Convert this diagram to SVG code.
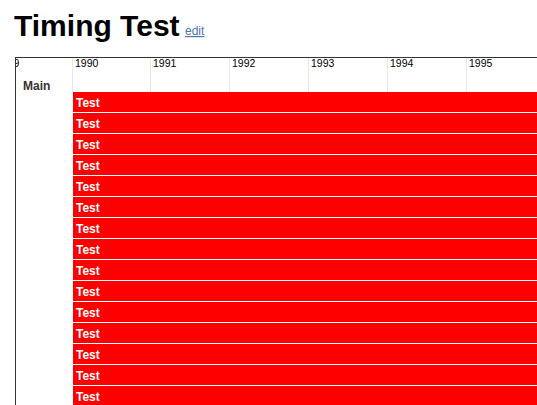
<svg xmlns="http://www.w3.org/2000/svg" width="537" height="405" viewBox="0 0 537 405">
<defs>
<style>
text{font-family:"Liberation Sans",Arial,sans-serif}
.title{font-size:30px;font-weight:bold;fill:#000}
.edit{font-size:12px;fill:#4a76b8;text-decoration:underline}
.yr{font-size:10.5px;fill:#000}
.grid{stroke:#e8e8e8;stroke-width:1}
.bar{fill:#ff0000}
.lbl{font-size:12px;font-weight:bold;fill:#fff}
.main{font-size:12px;font-weight:bold;fill:#333}
</style>
<clipPath id="tl"><rect x="15.5" y="57" width="522" height="348"/></clipPath>
</defs>
<rect width="537" height="405" fill="#fff"/>
<text class="title" x="14" y="36">Timing Test</text>
<text class="edit" x="185" y="35">edit</text>
<g id="axis">
<line class="grid" x1="72.5" y1="57" x2="72.5" y2="92"/>
<line class="grid" x1="150.5" y1="57" x2="150.5" y2="92"/>
<line class="grid" x1="229.5" y1="57" x2="229.5" y2="92"/>
<line class="grid" x1="308.5" y1="57" x2="308.5" y2="92"/>
<line class="grid" x1="387.5" y1="57" x2="387.5" y2="92"/>
<line class="grid" x1="466.5" y1="57" x2="466.5" y2="92"/>
<g clip-path="url(#tl)">
<text class="yr" x="-4" y="67">1989</text>
</g>
<text class="yr" x="75" y="67">1990</text>
<text class="yr" x="153" y="67">1991</text>
<text class="yr" x="232" y="67">1992</text>
<text class="yr" x="311" y="67">1993</text>
<text class="yr" x="390" y="67">1994</text>
<text class="yr" x="469" y="67">1995</text>
<line x1="15" y1="57.5" x2="537" y2="57.5" stroke="#333" stroke-width="1"/>
<line x1="15.5" y1="57" x2="15.5" y2="405" stroke="#333" stroke-width="1"/>
</g>
<g id="main">
<text class="main" x="23" y="90">Main</text>
</g>
<g id="bars">
<g id="t1"><rect class="bar" x="73" y="92" width="464" height="20"/><text class="lbl" x="76" y="107">Test</text></g>
<g id="t2"><rect class="bar" x="73" y="113" width="464" height="20"/><text class="lbl" x="76" y="128">Test</text></g>
<g id="t3"><rect class="bar" x="73" y="134" width="464" height="20"/><text class="lbl" x="76" y="149">Test</text></g>
<g id="t4"><rect class="bar" x="73" y="155" width="464" height="20"/><text class="lbl" x="76" y="170">Test</text></g>
<g id="t5"><rect class="bar" x="73" y="176" width="464" height="20"/><text class="lbl" x="76" y="191">Test</text></g>
<g id="t6"><rect class="bar" x="73" y="197" width="464" height="20"/><text class="lbl" x="76" y="212">Test</text></g>
<g id="t7"><rect class="bar" x="73" y="218" width="464" height="20"/><text class="lbl" x="76" y="233">Test</text></g>
<g id="t8"><rect class="bar" x="73" y="239" width="464" height="20"/><text class="lbl" x="76" y="254">Test</text></g>
<g id="t9"><rect class="bar" x="73" y="260" width="464" height="20"/><text class="lbl" x="76" y="275">Test</text></g>
<g id="t10"><rect class="bar" x="73" y="281" width="464" height="20"/><text class="lbl" x="76" y="296">Test</text></g>
<g id="t11"><rect class="bar" x="73" y="302" width="464" height="20"/><text class="lbl" x="76" y="317">Test</text></g>
<g id="t12"><rect class="bar" x="73" y="323" width="464" height="20"/><text class="lbl" x="76" y="338">Test</text></g>
<g id="t13"><rect class="bar" x="73" y="344" width="464" height="20"/><text class="lbl" x="76" y="359">Test</text></g>
<g id="t14"><rect class="bar" x="73" y="365" width="464" height="20"/><text class="lbl" x="76" y="380">Test</text></g>
<g id="t15"><rect class="bar" x="73" y="386" width="464" height="20"/><text class="lbl" x="76" y="401">Test</text></g>
</g>
</svg>
